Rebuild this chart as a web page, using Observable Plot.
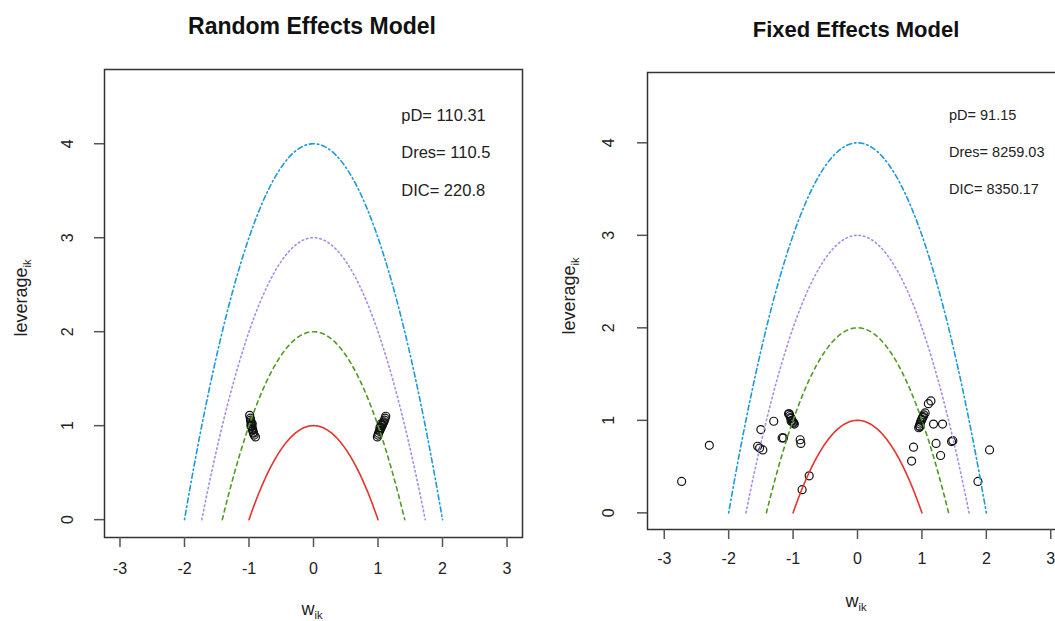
<!DOCTYPE html>
<html>
<head>
<meta charset="utf-8">
<script src="https://cdn.jsdelivr.net/npm/d3@7"></script>
<script src="https://cdn.jsdelivr.net/npm/@observablehq/plot@0.6"></script>
<style>
  html, body { margin: 0; padding: 0; background: #fff; overflow: hidden; }
  #wrap { position: relative; width: 1055px; height: 621px; overflow: hidden; font-family: "Liberation Sans", Arial, sans-serif; color: #111; }
  .panel { position: absolute; top: 0; }
  .title { position: absolute; font-weight: bold; white-space: nowrap; transform: translate(-50%, -50%); }
  .lab { position: absolute; font-size: 18px; white-space: nowrap; transform: translate(-50%, -50%); color: #222; }
  .lab sub { font-size: 11px; }
  .ylab { transform: translate(-50%, -50%) rotate(-90deg); }
</style>
</head>
<body>
<div id="wrap"></div>
<script>
// ---- data ----
const contourLevels = [1, 2, 3, 4];
const contourColors = ["#e8322c", "#4f9a22", "#a98ce6", "#1d9ad6"];
const contourDash = [null, "4,4", "1.5,3", "1.5,3,5,3"];
const xTicks = [-3, -2, -1, 0, 1, 2, 3];
const yTicks = [0, 1, 2, 3, 4];

// Random Effects model points (w_ik, leverage_ik)
const reW = [-0.99, -0.98, -0.975, -0.97, -0.965, -0.96, -0.955, -0.95, -0.945, -0.94, -0.935, -0.93, -0.92, -0.9, -0.97, -0.95,
             0.99, 1.0, 1.01, 1.02, 1.03, 1.04, 1.05, 1.06, 1.07, 1.08, 1.09, 1.1, 1.11, 1.12, 1.05, 1.03];
const reLev = [1.11, 1.08, 1.06, 1.04, 1.02, 1.0, 0.99, 0.97, 0.96, 0.95, 0.93, 0.92, 0.9, 0.88, 1.0, 1.02,
               0.88, 0.9, 0.92, 0.94, 0.95, 0.97, 0.98, 1.0, 1.01, 1.03, 1.04, 1.06, 1.08, 1.1, 1.02, 0.98];
const reStats = ["pD= 110.31", "Dres= 110.5", "DIC= 220.8"];

// Fixed Effects model points (w_ik, leverage_ik)
const feW = [-2.73, -2.30, -1.50, -1.30, -1.55, -1.52, -1.47, -1.17, -1.15, -1.06,
             -1.07, -1.05, -1.04, -1.03, -1.02, -1.01, -1.0, -0.99, -0.98, -1.03,
             -0.89, -0.88, -0.75, -0.86,
             0.95, 0.96, 0.97, 0.98, 0.99, 1.0, 1.01, 1.02, 1.03, 1.05, 0.97,
             1.10, 1.14, 1.18, 1.32, 1.22, 1.29, 0.87, 0.84, 1.46, 1.48, 2.05, 1.87];
const feLev = [0.34, 0.73, 0.90, 0.99, 0.72, 0.70, 0.68, 0.81, 0.81, 1.07,
               1.07, 1.05, 1.03, 1.02, 1.0, 0.99, 0.98, 0.97, 0.96, 0.99,
               0.79, 0.75, 0.40, 0.25,
               0.92, 0.94, 0.96, 0.98, 1.0, 1.01, 1.03, 1.04, 1.06, 1.08, 0.93,
               1.18, 1.21, 0.96, 0.96, 0.75, 0.62, 0.71, 0.56, 0.77, 0.78, 0.68, 0.34];
const feStats = ["pD= 91.15", "Dres= 8259.03", "DIC= 8350.17"];
const statY = [4.3, 3.9, 3.5];

// ---- contour curves leverage = level - w^2 ----
function contour(level) {
  const r = Math.sqrt(level), pts = [];
  for (let i = 0; i <= 120; i++) { const w = -r + 2 * r * i / 120; pts.push({w, lev: level - w * w}); }
  return pts;
}

const fmt = d => String(d);

function panel(opts) {
  const pts = opts.w.map((w, i) => ({w, lev: opts.lev[i]}));
  const stats = opts.stats.map((s, i) => ({s, y: statY[i]}));
  const marks = [
    Plot.frame({stroke: "#333", strokeWidth: 1.5}),
    Plot.axisX({ticks: xTicks, tickFormat: fmt, tickSize: 10, tickPadding: opts.xPad, fontSize: 16, label: null, stroke: "#555", strokeWidth: 1.5, fill: "#222"}),
    Plot.axisY({ticks: yTicks, tickFormat: fmt, tickSize: 10, tickPadding: opts.yPad, fontSize: 16, label: null, stroke: "#555", strokeWidth: 1.5, fill: "#222", tickRotate: -90, textAnchor: "middle"}),
    Plot.dot(pts, {x: "w", y: "lev", r: 4, stroke: "#111", strokeWidth: 1.2, fill: "none"})
  ];
  contourLevels.forEach((c, i) => {
    marks.push(Plot.line(contour(c), {x: "w", y: "lev", stroke: contourColors[i], strokeWidth: 1.6, strokeDasharray: contourDash[i]}));
  });
  marks.push(Plot.text(stats, {x: opts.statX, y: "y", text: "s", textAnchor: "start", fontSize: opts.statSize, fill: "#222"}));
  return Plot.plot({
    width: opts.width, height: 621,
    marginLeft: opts.ml, marginRight: opts.mr, marginTop: opts.mt, marginBottom: opts.mb,
    style: {fontFamily: "'Liberation Sans', Arial, sans-serif", background: "transparent", overflow: "visible"},
    x: {domain: opts.xd},
    y: {domain: opts.yd},
    marks
  });
}

const wrap = document.getElementById("wrap");

const left = panel({w: reW, lev: reLev, stats: reStats, statX: 1.36, statSize: 16.5,
  width: 530, ml: 104, mr: 8, mt: 69, mb: 84, xd: [-3.24, 3.24], yd: [-0.19, 4.79], xPad: 15, yPad: 22});
left.classList.add("panel"); left.style.left = "0px";
wrap.appendChild(left);

const right = panel({w: feW, lev: feLev, stats: feStats, statX: 1.42, statSize: 14.5,
  width: 540, ml: 117, mr: 3, mt: 72, mb: 92, xd: [-3.26, 3.26], yd: [-0.18, 4.76], xPad: 13, yPad: 24});
right.classList.add("panel"); right.style.left = "530px";
wrap.appendChild(right);

function addText(cls, html, x, y, size) {
  const d = document.createElement("div");
  d.className = cls; d.innerHTML = html;
  d.style.left = x + "px"; d.style.top = y + "px";
  if (size) d.style.fontSize = size + "px";
  wrap.appendChild(d);
}
addText("title", "Random Effects Model", 312, 26, 23);
addText("title", "Fixed Effects Model", 856, 30, 22);
addText("lab", "w<sub>ik</sub>", 312, 610);
addText("lab", "w<sub>ik</sub>", 856, 602);
addText("lab ylab", "leverage<sub>ik</sub>", 22, 298);
addText("lab ylab", "leverage<sub>ik</sub>", 570, 296);
</script>
</body>
</html>
